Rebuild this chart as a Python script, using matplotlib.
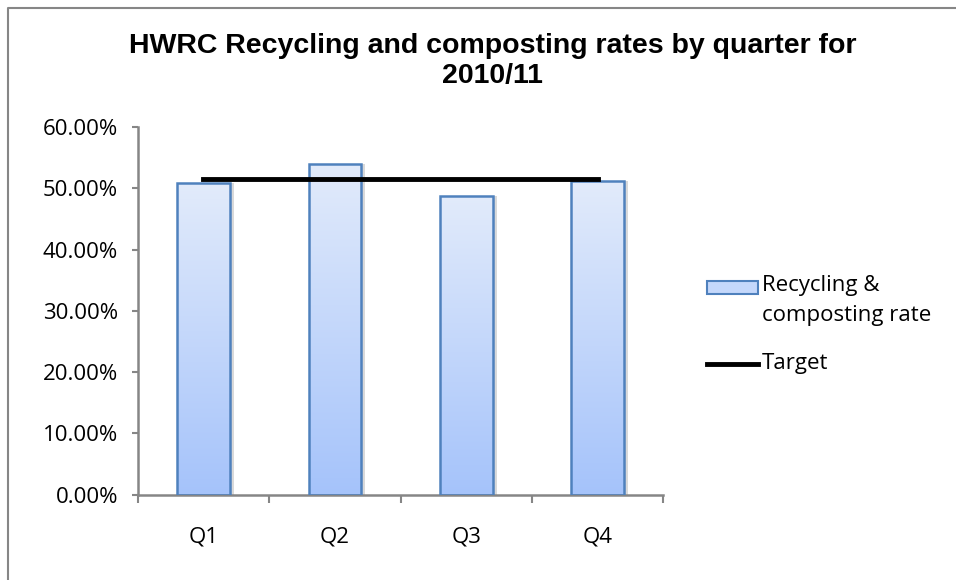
import matplotlib
matplotlib.use("Agg")
import matplotlib.pyplot as plt
import numpy as np
from matplotlib.patches import Rectangle
from matplotlib.lines import Line2D
from matplotlib.colors import LinearSegmentedColormap

quarters = ["Q1", "Q2", "Q3", "Q4"]
rates = [0.509, 0.540, 0.488, 0.512]
target = [0.515, 0.515, 0.515, 0.515]

plt.rcParams["font.family"] = ["Open Sans", "DejaVu Sans"]

fig = plt.figure(figsize=(9.56, 5.8), dpi=100)
ax = fig.add_axes([0.144, 0.147, 0.55, 0.634])

x = np.arange(len(quarters))

# light grey shadow behind each bar
ax.bar(x + 0.03, rates, width=0.4, color="#d9d9d9", zorder=1)
bars = ax.bar(x, rates, width=0.4, color="none", edgecolor="#4f81bd",
              linewidth=1.8, zorder=3)

# vertical gradient fill for each bar
grad = np.linspace(0, 1, 256).reshape(-1, 1)
cmap = LinearSegmentedColormap.from_list("bar", ["#a5c3fa", "#e2ebfb"])
for b in bars:
    bx, by = b.get_x(), b.get_y()
    w, h = b.get_width(), b.get_height()
    im = ax.imshow(grad, extent=[bx, bx + w, by, by + h], origin="lower",
                   cmap=cmap, aspect="auto", zorder=2)
    im.set_clip_path(Rectangle((bx, by), w, h, transform=ax.transData))

ax.plot(x, target, color="black", linewidth=3.5, zorder=4)

ax.set_xlim(-0.5, 3.5)
ax.set_ylim(0, 0.6)
ax.set_yticks(np.arange(0, 0.61, 0.1))
ax.set_yticklabels(["%.2f%%" % (v * 100) for v in np.arange(0, 0.61, 0.1)],
                   fontsize=16)
ax.set_xticks(x)
ax.set_xticklabels(quarters, fontsize=16)
ax.set_xticks(np.arange(-0.5, 4.0, 1.0), minor=True)
ax.tick_params(axis="x", which="major", length=0, pad=23)
ax.tick_params(axis="x", which="minor", length=6, color="#868686", width=1.5)
ax.tick_params(axis="y", length=4, color="#868686", width=1.5, pad=10)

for s in ["top", "right"]:
    ax.spines[s].set_visible(False)
for s in ["left", "bottom"]:
    ax.spines[s].set_color("#868686")
    ax.spines[s].set_linewidth(1.8)

fig.text(0.515, 0.894, "HWRC Recycling and composting rates by quarter for\n2010/11",
         ha="center", va="center", fontsize=20.5, fontweight="bold",
         family=["Liberation Sans", "DejaVu Sans"], linespacing=1.2)

# legend drawn by hand (Excel puts the patch beside the first line of text)
lx0, lx1, tx = 707 / 956, 758 / 956, 762 / 956
fig.add_artist(Rectangle((lx0, 1 - 294 / 580), lx1 - lx0, 13 / 580,
                         transform=fig.transFigure, facecolor="#c5d8fb",
                         edgecolor="#4f81bd", linewidth=1.5))
fig.text(tx, 1 - 286 / 580, "Recycling &", fontsize=16, va="center")
fig.text(tx, 1 - 316 / 580, "composting rate", fontsize=16, va="center")
fig.add_artist(Line2D([lx0, lx1], [1 - 364 / 580] * 2, transform=fig.transFigure,
                      color="black", linewidth=3.5))
fig.text(tx, 1 - 363 / 580, "Target", fontsize=16, va="center")

# chart-area border (only left and top visible)
fig.add_artist(Line2D([0.0085, 0.0085, 1.0], [0.0, 0.987, 0.987],
                      transform=fig.transFigure, color="#868686", linewidth=1.5))

fig.savefig("out.png", dpi=100)
